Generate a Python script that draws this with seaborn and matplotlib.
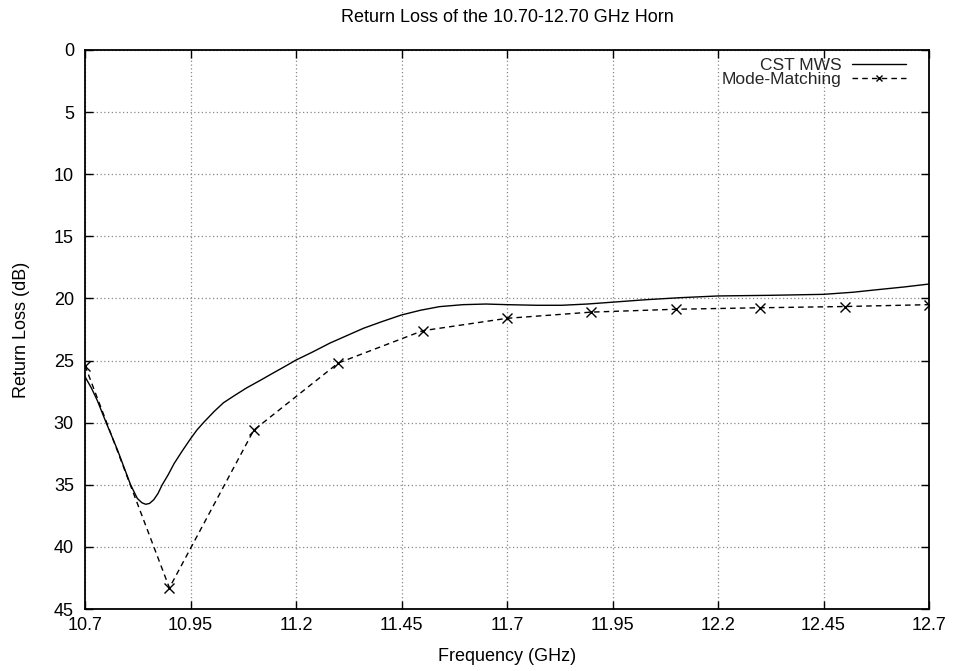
import matplotlib
matplotlib.use("Agg")
import matplotlib.pyplot as plt
import seaborn as sns
import pandas as pd

# CST MWS curve
cst_freq = [10.700, 10.715, 10.729, 10.749, 10.777, 10.808, 10.824, 10.835, 10.844, 10.853,
            10.863, 10.873, 10.883, 10.897, 10.911, 10.930, 10.950, 10.965, 10.982, 11.006,
            11.028, 11.055, 11.083, 11.115, 11.146, 11.175, 11.200, 11.240, 11.280, 11.320,
            11.360, 11.405, 11.450, 11.495, 11.540, 11.596, 11.650, 11.700, 11.770, 11.830,
            11.890, 11.950, 12.030, 12.110, 12.200, 12.320, 12.450, 12.520, 12.576, 12.640,
            12.700]
cst_rl = [26.3, 27.2, 28.2, 29.9, 32.2, 35.0, 36.1, 36.45, 36.57, 36.5,
          36.2, 35.7, 35.0, 34.2, 33.3, 32.3, 31.3, 30.6, 29.95, 29.1,
          28.4, 27.8, 27.2, 26.6, 26.0, 25.45, 24.96, 24.3, 23.6, 23.0,
          22.4, 21.85, 21.33, 20.95, 20.66, 20.5, 20.45, 20.5, 20.55, 20.55,
          20.45, 20.3, 20.1, 19.94, 19.8, 19.75, 19.67, 19.5, 19.3, 19.08,
          18.84]

# Mode-Matching points
mm_freq = [10.7, 10.9, 11.1, 11.3, 11.5, 11.7, 11.9, 12.1, 12.3, 12.5, 12.7]
mm_rl = [25.4, 43.3, 30.6, 25.2, 22.6, 21.6, 21.1, 20.87, 20.75, 20.65, 20.5]

x_ticks = [10.7, 10.95, 11.2, 11.45, 11.7, 11.95, 12.2, 12.45, 12.7]
y_ticks = [0, 5, 10, 15, 20, 25, 30, 35, 40, 45]

sns.set_theme(style="white")
plt.rcParams['font.family'] = ['Liberation Sans', 'DejaVu Sans']

FS = 13

fig = plt.figure(figsize=(9.56, 6.71), dpi=100)
ax = fig.add_axes([85/956, 1-609/671, (929-85)/956, (609-50)/671])

cst_df = pd.DataFrame({"f": cst_freq, "rl": cst_rl})
mm_df = pd.DataFrame({"f": mm_freq, "rl": mm_rl})

sns.lineplot(data=cst_df, x="f", y="rl", ax=ax, color="black", lw=1.0,
             label="CST MWS", sort=False)
sns.lineplot(data=mm_df, x="f", y="rl", ax=ax, color="black", lw=1.0,
             linestyle=(0, (4, 3)), marker="x", markersize=7, markeredgewidth=1.0,
             markeredgecolor="black", label="Mode-Matching", sort=False)

ax.set_xlim(10.7, 12.7)
ax.set_ylim(45, 0)
ax.set_xticks(x_ticks)
ax.set_xticklabels([f"{t:g}" for t in x_ticks])
ax.set_yticks(y_ticks)
ax.set_yticklabels([str(t) for t in y_ticks])

ax.grid(True, color="#888888", linestyle=(0, (1, 2)), lw=0.9)
for s in ax.spines.values():
    s.set_color("black")
    s.set_linewidth(1.3)
ax.tick_params(direction="in", length=6, width=1.0, color="black",
               top=True, right=True, bottom=True, left=True,
               labelsize=FS, labelcolor="black")
ax.tick_params(axis="x", pad=6)
ax.tick_params(axis="y", pad=8)

ax.set_xlabel("Frequency (GHz)", fontsize=FS, color="black", labelpad=10)
ax.set_ylabel("Return Loss (dB)", fontsize=FS, color="black", labelpad=17)
ax.set_title("Return Loss of the 10.70-12.70 GHz Horn", fontsize=FS,
             color="black", pad=20)

leg = ax.legend(loc="upper right", bbox_to_anchor=(0.981, 0.998), frameon=False,
                markerfirst=False, fontsize=12.5, handlelength=3.1,
                borderaxespad=0.0, labelspacing=-0.08, handletextpad=0.6)
for h in leg.legend_handles:
    try:
        h.set_markersize(5)
    except Exception:
        pass
for t in leg.get_texts():
    t.set_ha("right")

fig.savefig("out.png", dpi=100)
